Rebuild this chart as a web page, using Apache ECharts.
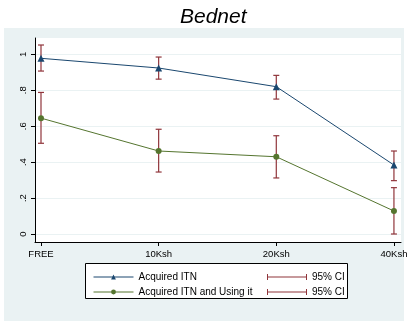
<!DOCTYPE html>
<html>
<head>
<meta charset="utf-8">
<script src="https://cdn.jsdelivr.net/npm/echarts@6/dist/echarts.min.js"></script>
<style>
html,body{margin:0;padding:0;background:#fff;}
#chart{width:411px;height:321px;}
</style>
</head>
<body>
<div id="chart"></div>
<script>
const categories = ['FREE', '10Ksh', '20Ksh', '40Ksh'];
const acquired   = [0.978, 0.924, 0.820, 0.384];
const acquiredLo = [0.907, 0.862, 0.751, 0.297];
const acquiredHi = [1.052, 0.985, 0.883, 0.462];
const usingIt    = [0.645, 0.462, 0.430, 0.128];
const usingLo    = [0.505, 0.345, 0.312, 0.000];
const usingHi    = [0.788, 0.583, 0.547, 0.258];
const yTicks      = [0, 0.2, 0.4, 0.6, 0.8, 1];
const yTickLabels = ['0', '.2', '.4', '.6', '.8', '1'];
const xTicks      = [0, 1, 2, 3];

const FONT = 'Liberation Sans';
const NAVY = '#1a476f';
const GREEN = '#55752f';
const MAROON = '#90353b';
const BG = '#eaf2f3';

const ciIcon = 'path://M0,0h1v6h-1z M0,2.5h40v1h-40z M39,0h1v6h-1z';

function ciData(lo, hi) {
  return categories.map((c, i) => [i, lo[i], hi[i]]);
}
function renderCI(params, api) {
  const x = api.value(0);
  const pLo = api.coord([x, api.value(1)]);
  const pHi = api.coord([x, api.value(2)]);
  const w = 3;
  const st = { stroke: MAROON, lineWidth: 1.2 };
  return {
    type: 'group',
    children: [
      { type: 'line', shape: { x1: pLo[0], y1: pLo[1], x2: pHi[0], y2: pHi[1] }, style: st },
      { type: 'line', shape: { x1: pLo[0] - w, y1: pLo[1], x2: pLo[0] + w, y2: pLo[1] }, style: st },
      { type: 'line', shape: { x1: pHi[0] - w, y1: pHi[1], x2: pHi[0] + w, y2: pHi[1] }, style: st }
    ]
  };
}

const chart = echarts.init(document.getElementById('chart'), null, { renderer: 'canvas' });
chart.setOption({
  animation: false,
  backgroundColor: '#fff',
  title: {
    text: 'Bednet',
    left: 175,
    top: 2,
    textStyle: { fontFamily: FONT, fontStyle: 'italic', fontWeight: 'normal', fontSize: 21, color: '#000' }
  },
  graphic: [
    { type: 'rect', z: -10, left: 4, top: 28, shape: { width: 400, height: 293 }, style: { fill: BG } },
    { type: 'rect', z: 0, left: 85, top: 263, shape: { width: 262, height: 35 }, style: { fill: '#fff', stroke: '#000', lineWidth: 1 } }
  ],
  grid: { left: 35, right: 10, top: 38, bottom: 79, show: true, backgroundColor: '#fff', borderWidth: 0 },
  xAxis: {
    type: 'value',
    min: -0.051,
    max: 3.06,
    axisLine: { show: true, onZero: false, lineStyle: { color: '#000', width: 1 } },
    axisTick: { show: true, length: 4, customValues: xTicks, lineStyle: { color: '#000' } },
    axisLabel: {
      customValues: xTicks, margin: 7, fontFamily: FONT, fontSize: 9.5, color: '#000',
      formatter: v => categories[Math.round(v)]
    },
    splitLine: { show: false }
  },
  yAxis: {
    type: 'value',
    min: -0.0445,
    max: 1.091,
    axisLine: { show: true, onZero: false, lineStyle: { color: '#000', width: 1 } },
    axisTick: { show: true, length: 4, customValues: yTicks, lineStyle: { color: '#000' } },
    axisLabel: {
      customValues: yTicks, rotate: 90, margin: 7, fontFamily: FONT, fontSize: 9.5, color: '#000',
      formatter: v => { const i = yTicks.findIndex(t => Math.abs(t - v) < 1e-6); return i >= 0 ? yTickLabels[i] : ''; }
    },
    splitLine: { show: true, lineStyle: { color: BG, width: 1 } }
  },
  legend: [
    {
      left: 88, top: 267, orient: 'vertical', itemWidth: 40, itemHeight: 6, itemGap: 5,
      data: ['Acquired ITN', 'Acquired ITN and Using it'],
      lineStyle: { width: 1 },
      textStyle: { fontFamily: FONT, fontSize: 10, color: '#000' },
      selectedMode: false
    },
    {
      left: 262, top: 267, orient: 'vertical', itemWidth: 40, itemHeight: 6, itemGap: 5,
      data: [{ name: '95% CI', icon: ciIcon }, { name: '95% CI ', icon: ciIcon }],
      textStyle: { fontFamily: FONT, fontSize: 10, color: '#000' },
      selectedMode: false
    }
  ],
  series: [
    {
      name: '95% CI', type: 'custom', z: 1, renderItem: renderCI,
      itemStyle: { color: MAROON },
      encode: { x: 0, y: [1, 2] },
      data: ciData(acquiredLo, acquiredHi)
    },
    {
      name: '95% CI ', type: 'custom', z: 1, renderItem: renderCI,
      itemStyle: { color: MAROON },
      encode: { x: 0, y: [1, 2] },
      data: ciData(usingLo, usingHi)
    },
    {
      name: 'Acquired ITN', type: 'line', z: 3,
      symbol: 'triangle', symbolSize: 7,
      itemStyle: { color: NAVY },
      lineStyle: { color: NAVY, width: 1 },
      data: acquired.map((v, i) => [i, v])
    },
    {
      name: 'Acquired ITN and Using it', type: 'line', z: 3,
      symbol: 'circle', symbolSize: 6,
      itemStyle: { color: GREEN },
      lineStyle: { color: GREEN, width: 1 },
      data: usingIt.map((v, i) => [i, v])
    }
  ]
});
</script>
</body>
</html>
